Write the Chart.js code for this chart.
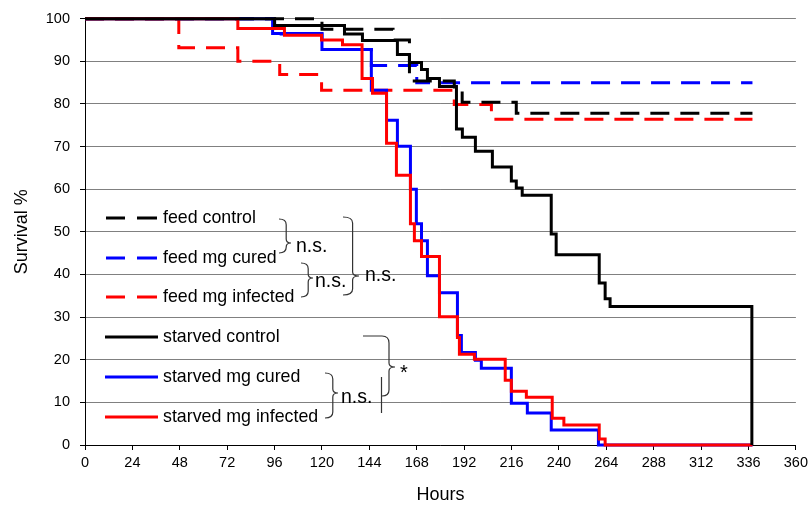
<!DOCTYPE html>
<html>
<head>
<meta charset="utf-8">
<script src="https://cdn.jsdelivr.net/npm/chart.js@4/dist/chart.umd.min.js"></script>
<style>
html,body{margin:0;padding:0;background:#fff;}
#wrap{width:812px;height:517px;}
</style>
</head>
<body>
<div id="wrap"><canvas id="c" width="812" height="517"></canvas></div>
<script>
// ---- data (hours, survival %) ----
const xTicks = [0,24,48,72,96,120,144,168,192,216,240,264,288,312,336,360];
const yTicks = [0,10,20,30,40,50,60,70,80,90,100];

const feedControlHours = [0, 120, 156, 164.3, 187, 191, 218.4, 338];
const feedControlSurv  = [100, 97.5, 95, 85.4, 83.2, 80.4, 77.8, 77.8];

const feedCuredHours = [0, 96, 120, 145, 168, 338];
const feedCuredSurv  = [100, 96.4, 92.8, 89, 85, 85];

const feedInfHours = [0, 47.5, 77.4, 98.6, 119.8, 187, 205.8, 338];
const feedInfSurv  = [100, 93.2, 90, 86.9, 83.2, 79.9, 76.4, 76.4];

const starvedControlHours = [0, 96, 131.4, 140.5, 158.2, 164.3, 170.4, 173.4, 179.5, 188.1, 191.1, 197.7, 206.3, 215.9, 218.4, 221.4, 236.1, 238.6, 260.4, 263.4, 265.9, 337.7];
const starvedControlSurv  = [100, 98.4, 96.4, 94.9, 91.6, 89.7, 88.1, 86.0, 84.1, 74.1, 72.2, 68.9, 65.2, 61.9, 60.3, 58.6, 49.5, 44.6, 38.0, 34.3, 32.5, 0];

const starvedCuredHours = [0, 95, 120, 145, 152.7, 158.2, 164.8, 167.8, 170.4, 173.4, 179.5, 188.6, 190.6, 197.7, 200.7, 215.9, 224, 236.1, 260, 338];
const starvedCuredSurv  = [100, 96.5, 92.8, 83.2, 76.2, 70.1, 60, 51.9, 47.9, 39.7, 35.7, 25.7, 21.7, 19.9, 18.0, 9.8, 7.5, 3.5, 0, 0];

const starvedInfHours = [0, 77.4, 101, 119.8, 130.4, 140.3, 145.6, 152.7, 157.7, 164.8, 166.8, 170.4, 179.5, 188.6, 189.6, 197.2, 212.8, 215.9, 223.5, 236.6, 242.5, 260.4, 263.4, 338];
const starvedInfSurv  = [100, 97.7, 96.1, 95.0, 93.9, 86, 82.5, 70.8, 63.3, 51.9, 47.9, 44.2, 30.1, 25.2, 21.3, 20.1, 15.2, 12.6, 11.2, 6.3, 4.7, 1.4, 0, 0];

const seriesLabels = ['feed control','feed mg cured','feed mg infected','starved control','starved mg cured','starved mg infected'];
const sigLabels = ['n.s.','n.s.','n.s.','n.s.','*'];

function pts(h, s){ return h.map((x,i)=>({x:x, y:s[i]})); }

const DASH = [19, 11];
const series = [
  {h:feedControlHours, s:feedControlSurv, color:'#000000', dash:DASH, order:4},
  {h:feedCuredHours, s:feedCuredSurv, color:'#0000ff', dash:DASH, order:6},
  {h:feedInfHours, s:feedInfSurv, color:'#ff0000', dash:DASH, order:5},
  {h:starvedControlHours, s:starvedControlSurv, color:'#000000', dash:[], order:1},
  {h:starvedCuredHours, s:starvedCuredSurv, color:'#0000ff', dash:[], order:3},
  {h:starvedInfHours, s:starvedInfSurv, color:'#ff0000', dash:[], order:2}
];

const datasets = series.map((d,i)=>({
  label: seriesLabels[i],
  data: pts(d.h, d.s),
  borderColor: d.color,
  backgroundColor: d.color,
  borderWidth: 3,
  borderDash: d.dash,
  stepped: 'before',
  pointRadius: 0,
  fill: false,
  clip: false,
  order: d.order,
  tension: 0
}));

const FONT = '"Liberation Sans", Arial, sans-serif';

function brace(ctx, xl, yt, yb, xr, ym){
  const xv = xl + (xr - xl) * 0.6;
  const r = Math.min(6, (yb-yt)/6);
  ctx.beginPath();
  ctx.moveTo(xl, yt);
  ctx.quadraticCurveTo(xv, yt, xv, yt + r);
  ctx.lineTo(xv, ym - 4);
  ctx.quadraticCurveTo(xv, ym, xr, ym);
  ctx.quadraticCurveTo(xv, ym, xv, ym + 4);
  ctx.lineTo(xv, yb - r);
  ctx.quadraticCurveTo(xv, yb, xl, yb);
  ctx.stroke();
}

const legendPlugin = {
  id: 'customLegend',
  afterDraw(chart){
    const ctx = chart.ctx;
    ctx.save();
    const baselines = [223, 263, 302, 342, 382, 422];
    ctx.font = '17.8px ' + FONT;
    ctx.textBaseline = 'alphabetic';
    ctx.textAlign = 'left';
    series.forEach((d,i)=>{
      const ly = baselines[i] - 5;
      ctx.strokeStyle = d.color;
      ctx.lineWidth = 3;
      ctx.setLineDash([]);
      ctx.beginPath();
      if (d.dash.length){
        ctx.moveTo(106, ly); ctx.lineTo(125, ly);
        ctx.moveTo(137, ly); ctx.lineTo(157, ly);
      } else {
        ctx.moveTo(105, ly); ctx.lineTo(158, ly);
      }
      ctx.stroke();
      ctx.fillStyle = '#000';
      ctx.fillText(seriesLabels[i], 163, baselines[i]);
    });
    ctx.strokeStyle = '#333';
    ctx.lineWidth = 1.2;
    brace(ctx, 279, 219, 253, 291, 243);
    brace(ctx, 301, 263, 297, 313, 278);
    brace(ctx, 343, 217, 295, 359, 276);
    brace(ctx, 325, 373, 418, 338, 393);
    ctx.beginPath();
    ctx.moveTo(363, 336);
    ctx.lineTo(382, 336);
    ctx.quadraticCurveTo(389, 336, 389, 343);
    ctx.lineTo(389, 363);
    ctx.quadraticCurveTo(389, 367, 395, 367);
    ctx.quadraticCurveTo(389, 367, 389, 371);
    ctx.lineTo(389, 390);
    ctx.quadraticCurveTo(389, 396, 382, 396);
    ctx.stroke();
    ctx.beginPath();
    ctx.moveTo(381.5, 377);
    ctx.lineTo(381.5, 413);
    ctx.stroke();
    ctx.fillStyle = '#000';
    ctx.font = '19.5px ' + FONT;
    ctx.fillText(sigLabels[0], 296, 252);
    ctx.fillText(sigLabels[1], 315, 287);
    ctx.fillText(sigLabels[2], 365, 281);
    ctx.fillText(sigLabels[3], 341, 403);
    ctx.font = '20px ' + FONT;
    ctx.fillText(sigLabels[4], 400, 379);
    ctx.restore();
  }
};

new Chart(document.getElementById('c'), {
  type: 'line',
  data: { datasets },
  options: {
    responsive: false,
    animation: false,
    devicePixelRatio: 1,
    layout: { padding: { left: 0, right: 15, top: 17, bottom: 0 } },
    plugins: { legend: { display: false }, tooltip: { enabled: false } },
    scales: {
      x: {
        type: 'linear',
        min: 0, max: 360,
        afterBuildTicks: (scale) => { scale.ticks = xTicks.map(v=>({value:v})); },
        afterFit: (scale) => { scale.height = 72; },
        ticks: { color:'#000', font:{family:FONT, size:14.5}, padding: 4, maxRotation:0, autoSkip:false },
        grid: { drawOnChartArea: false, color:'#000', tickColor:'#000', tickLength: 5 },
        border: { color:'#000', width: 1 },
        title: { display: true, text: 'Hours', color:'#000', font:{family:FONT, size:18}, padding:{top:0, bottom:11} }
      },
      y: {
        min: 0, max: 100,
        afterBuildTicks: (scale) => { scale.ticks = yTicks.map(v=>({value:v})); },
        afterFit: (scale) => { scale.width = 85; },
        ticks: { color:'#000', font:{family:FONT, size:14.5}, padding: 10 },
        grid: { color: '#808080', lineWidth: 1, tickColor:'#000', tickLength: 5 },
        border: { color:'#000', width: 1 },
        title: { display: true, text: 'Survival %', color:'#000', font:{family:FONT, size:18}, padding:{top:11, bottom:0} }
      }
    }
  },
  plugins: [legendPlugin]
});
</script>
</body>
</html>
